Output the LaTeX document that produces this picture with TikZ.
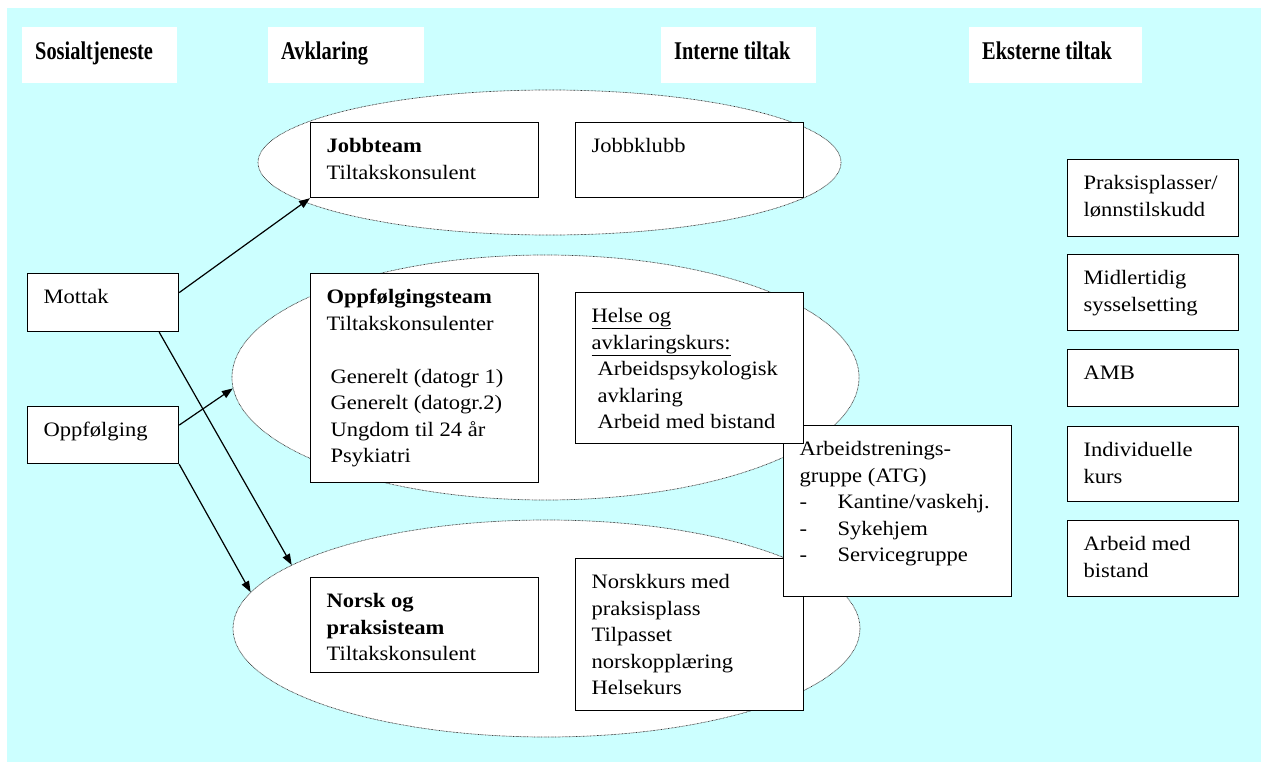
\documentclass[tikz,border=0pt]{standalone}
\usepackage{fontspec}
\setmainfont{Liberation Serif}[FakeStretch=1.1]
\newfontfamily\headfont{Liberation Serif}[FakeStretch=0.8]
\usetikzlibrary{shapes.geometric,arrows.meta}
\definecolor{bgcyan}{HTML}{CCFFFF}
\newcommand{\boxtxt}[3]{\parbox[t][#2pt][t]{#1pt}{\raggedright\leftskip=16pt\rule{0pt}{30pt}#3}}
\newcommand{\headtxt}[3]{\parbox[t][#2pt][t]{#1pt}{\raggedright\leftskip=13pt\headfont\bfseries\fontsize{25.5pt}{28pt}\selectfont\rule{0pt}{32pt}#3}}
\newcommand{\itm}{\makebox[38pt][l]{-}}
\begin{document}
\begin{tikzpicture}[x=1pt, y=-1pt, font=\fontsize{20.5pt}{26.5pt}\selectfont]
        \tikzstyle{tbox} = [draw, fill=white, line width=1.2pt, anchor=north west, inner sep=0pt]
        \tikzstyle{headbox} = [fill=white, anchor=north west, inner sep=0pt]
        \tikzstyle{team} = [shape=ellipse, draw=black!80, fill=white, line width=0.7pt, dash pattern=on 0.7pt off 0.7pt, inner sep=0pt]
        \tikzstyle{link} = [line width=1.2pt, -{Triangle[length=11pt,width=8pt]}]
        \useasboundingbox (0,0) rectangle (1261,762);
        \fill[bgcyan] (7,8) rectangle (1261,762);
        \node[headbox] (hsos) at (22,27) {\headtxt{155}{56}{Sosialtjeneste}};
        \node[headbox] (havk) at (268,27) {\headtxt{156}{56}{Avklaring}};
        \node[headbox] (hint) at (661,27) {\headtxt{155}{56}{Interne tiltak}};
        \node[headbox] (heks) at (969,27) {\headtxt{173}{56}{Eksterne tiltak}};
        \node[team, minimum width=583pt, minimum height=145pt] (ell1) at (549.5,162.5) {};
        \node[team, minimum width=627pt, minimum height=245pt] (ell2) at (545.5,377.5) {};
        \node[team, minimum width=627pt, minimum height=217pt] (ell3) at (546.5,628.5) {};
        \node[tbox] (mottak) at (27,273) {\boxtxt{151}{58}{Mottak}};
        \node[tbox] (oppf) at (27,406) {\boxtxt{151}{57}{Oppfølging}};
        \node[tbox] (jobbteam) at (310,122) {\boxtxt{228}{75}{\textbf{Jobbteam}\\Tiltakskonsulent}};
        \node[tbox] (jobbklubb) at (575,122) {\boxtxt{228}{75}{Jobbklubb}};
        \node[tbox] (oteam) at (310,273) {\boxtxt{228}{209}{\textbf{Oppfølgingsteam}\\Tiltakskonsulenter\\[26.5pt]\hspace*{4pt}Generelt (datogr 1)\\\hspace*{4pt}Generelt (datogr.2)\\\hspace*{4pt}Ungdom til 24 år\\\hspace*{4pt}Psykiatri}};
        \node[tbox] (nkurs) at (575,558) {\boxtxt{228}{152}{Norskkurs med\\praksisplass\\Tilpasset\\norskopplæring\\Helsekurs}};
        \node[tbox] (atg) at (783,425) {\boxtxt{228}{171}{Arbeidstrenings-\\gruppe (ATG)\\\itm Kantine/vaskehj.\\\itm Sykehjem\\\itm Servicegruppe}};
        \node[tbox] (helse) at (575,292) {\boxtxt{228}{151}{\underline{Helse og}\\\underline{avklaringskurs:}\\\hspace*{6pt}Arbeidspsykologisk\\\hspace*{6pt}avklaring\\\hspace*{6pt}Arbeid med bistand}};
        \node[tbox] (nteam) at (310,577) {\boxtxt{228}{95}{\textbf{Norsk og}\\\textbf{praksisteam}\\Tiltakskonsulent}};
        \node[tbox] (prak) at (1067,159) {\boxtxt{171}{77}{Praksisplasser/\\lønnstilskudd}};
        \node[tbox] (midl) at (1067,254) {\boxtxt{171}{76}{Midlertidig\\sysselsetting}};
        \node[tbox] (amb) at (1067,349) {\boxtxt{171}{57}{AMB}};
        \node[tbox] (indiv) at (1067,426) {\boxtxt{171}{75}{Individuelle\\kurs}};
        \node[tbox] (arbmed) at (1067,520) {\boxtxt{171}{76}{Arbeid med\\bistand}};
        \draw[link] ([yshift=10pt]mottak.east) -- (jobbteam.south west);
        \draw[link] ([xshift=-20pt]mottak.south east) -- (ell3.166);
        \draw[link] ([yshift=10pt]oppf.east) -- (ell2.182);
        \draw[link] (oppf.south east) -- (ell3.173);
\end{tikzpicture}
\end{document}
